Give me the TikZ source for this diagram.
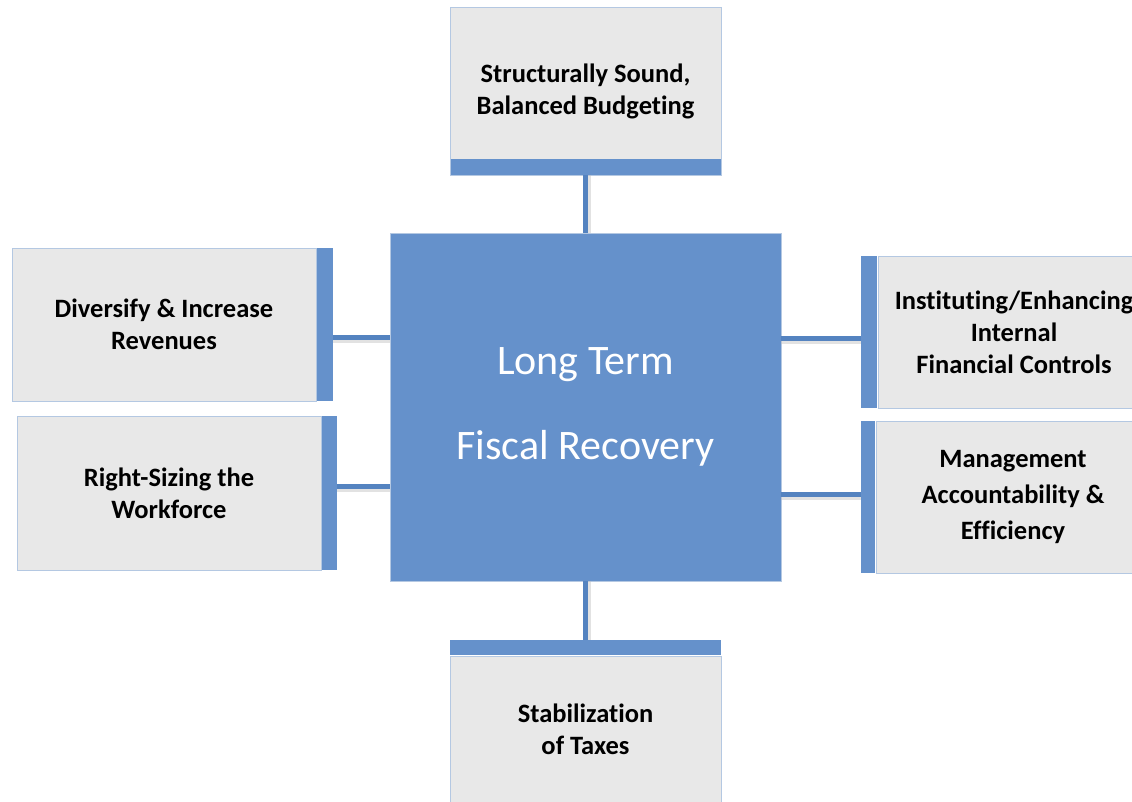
\documentclass[tikz,border=0pt]{standalone}
\usepackage{fontspec}
\setmainfont[Ligatures={NoCommon}]{Carlito}
\definecolor{mainblue}{HTML}{6591CB}
\definecolor{linkblue}{HTML}{5483C0}
\definecolor{boxgray}{HTML}{E8E8E8}
\definecolor{edgeblue}{HTML}{B4C8E2}
\tikzset{
  graybox/.style={draw=edgeblue, line width=0.8pt, fill=boxgray, inner sep=0pt, align=center,
    font=\fontsize{26.5}{32}\selectfont\bfseries},
  barbox/.style={fill=mainblue, draw=none, inner sep=0pt},
  hub/.style={fill=mainblue, draw=edgeblue, line width=0.6pt, inner sep=0pt, align=center, text=white,
    font=\fontsize{42}{85}\selectfont},
  link/.style={draw=linkblue, line width=5pt},
  linkshadow/.style={draw=black!25, line width=5pt, opacity=0.45},
}
\begin{document}
\begin{tikzpicture}[x=1pt,y=-1pt]
\clip (0,0) rectangle (1132,802);
\fill[white] (0,0) rectangle (1132,802);

% hub
\node[hub, minimum width=391, minimum height=348] (c) at (585.5,407) {\rule{0pt}{6pt}Long Term\\Fiscal Recovery};

% top
\node[graybox, minimum width=271, minimum height=168,
  path picture={\fill[mainblue] (path picture bounding box.south west) rectangle ([yshift=16pt]path picture bounding box.south east);}]
  (t) at (585.5,91) {\rule{0pt}{4pt}Structurally Sound,\\Balanced Budgeting};

% bottom
\node[graybox, minimum width=271, minimum height=146] (b) at (585.5,729) {Stabilization\\ of Taxes};
\node[barbox, minimum width=271, minimum height=15, anchor=south] (bb) at (b.north) {};

% left
\node[graybox, minimum width=304, minimum height=153] (l1) at (164,324.5) {Diversify \& Increase\\Revenues};
\node[barbox, minimum width=16, minimum height=153, anchor=west] (l1b) at (l1.east) {};
\node[graybox, minimum width=304, minimum height=154] (l2) at (169,493) {Right-Sizing the\\Workforce};
\node[barbox, minimum width=15, minimum height=154, anchor=west] (l2b) at (l2.east) {};

% right
\node[graybox, minimum width=272, minimum height=152] (r1) at (1014,332) {Instituting/Enhancing\\Internal\\Financial Controls};
\node[barbox, minimum width=16, minimum height=152, anchor=east] (r1b) at (r1.west) {};
\node[graybox, minimum width=274, minimum height=152] (r2) at (1013,497) {Management\\[4pt]Accountability \&\\[4pt]Efficiency};
\node[barbox, minimum width=14, minimum height=152, anchor=east] (r2b) at (r2.west) {};

% connector shadows
\draw[linkshadow] ([xshift=3pt]t.south) -- ([xshift=3pt]c.north);
\draw[linkshadow] ([xshift=3pt]c.south) -- ([xshift=3pt]bb.north);
\draw[linkshadow] ([yshift=-3pt]l1b.east |- 0,337) -- ([yshift=-3pt]c.west |- 0,337);
\draw[linkshadow] ([yshift=-3pt]l2b.east |- 0,486) -- ([yshift=-3pt]c.west |- 0,486);
\draw[linkshadow] ([yshift=-3pt]c.east |- 0,338) -- ([yshift=-3pt]r1b.west |- 0,338);
\draw[linkshadow] ([yshift=-3pt]c.east |- 0,494) -- ([yshift=-3pt]r2b.west |- 0,494);

% connectors
\draw[link] (t.south) -- (c.north);
\draw[link] (c.south) -- (bb.north);
\draw[link] (l1b.east |- 0,337) -- (c.west |- 0,337);
\draw[link] (l2b.east |- 0,486) -- (c.west |- 0,486);
\draw[link] (c.east |- 0,338) -- (r1b.west |- 0,338);
\draw[link] (c.east |- 0,494) -- (r2b.west |- 0,494);
\end{tikzpicture}
\end{document}
